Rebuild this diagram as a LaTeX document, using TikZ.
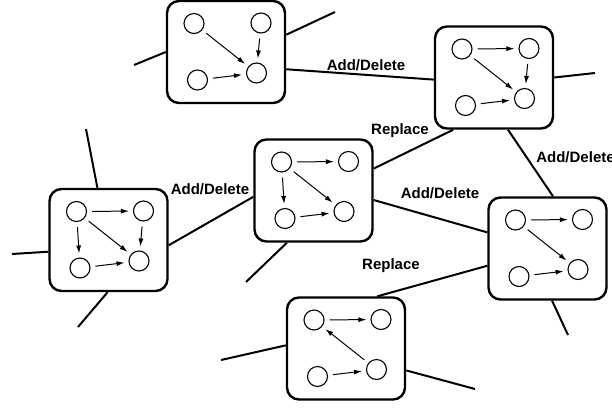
\documentclass[tikz,border=0pt]{standalone}
\usepackage{fontspec}
\setmainfont{Liberation Sans}
\usetikzlibrary{arrows.meta}

\begin{document}
\begin{tikzpicture}[x=1pt, y=-1pt, >={Latex[length=8pt,width=5pt]},
      cell/.style={draw, line width=2.4pt, rounded corners=12pt, minimum width=118pt, minimum height=102pt},
      dot/.style={draw, circle, line width=1.1pt, minimum size=20pt, inner sep=0pt},
      link/.style={line width=2pt},
      ar/.style={->, line width=1pt, shorten <=5pt, shorten >=4pt},
      lab/.style={font=\fontsize{15}{18}\selectfont\bfseries}]
      \useasboundingbox (0,0) rectangle (612,407);
      % the six networks, four units each
      \foreach \n/\x/\y in {A/226/52, B/494/77.5, C/313.5/190.5, D/108.5/240, E/547.5/248.5, F/346/348.5} {
        \node[cell] (\n) at (\x,\y) {};
        \node[dot] (\n1) at (\x-32,\y-28.5) {};
        \node[dot] (\n2) at (\x+35,\y-29) {};
        \node[dot] (\n3) at (\x-28.5,\y+28) {};
        \node[dot] (\n4) at (\x+30.5,\y+21) {};
      }
      % wiring inside each network
      \draw[ar] (A1) -- (A4);
      \draw[ar] (A2) -- (A4);
      \draw[ar] (A3) -- (A4);
      \draw[ar] (B1) -- (B2);
      \draw[ar] (B2) -- (B4);
      \draw[ar] (B1) -- (B4);
      \draw[ar] (B3) -- (B4);
      \draw[ar] (C1) -- (C2);
      \draw[ar] (C1) -- (C3);
      \draw[ar] (C1) -- (C4);
      \draw[ar] (C3) -- (C4);
      \draw[ar] (D1) -- (D2);
      \draw[ar] (D1) -- (D3);
      \draw[ar] (D1) -- (D4);
      \draw[ar] (D2) -- (D4);
      \draw[ar] (D3) -- (D4);
      \draw[ar] (E1) -- (E2);
      \draw[ar] (E1) -- (E4);
      \draw[ar] (E3) -- (E4);
      \draw[ar] (F1) -- (F2);
      \draw[ar] (F4) -- (F1);
      \draw[ar] (F3) -- (F4);
      % neighbours
      \draw[link] (A.-16) -- (B.182);
      \draw[link] (B.-128.5) -- (C.20);
      \draw[link] (B.-75) -- (E.84);
      \draw[link] (C.-9) -- (E.165);
      \draw[link] (C.186) -- (D.-5);
      \draw[link] (E.196) -- (F.59);
      % open ends
      \coordinate (a1) at (335,12);
      \coordinate (a2) at (134,65);
      \coordinate (b1) at (595,73);
      \coordinate (c1) at (246,282);
      \coordinate (d1) at (86,129);
      \coordinate (d2) at (12,254);
      \coordinate (d3) at (78,327);
      \coordinate (e1) at (568,335);
      \coordinate (f1) at (221,360);
      \coordinate (f2) at (475,389);
      \draw[link] (A.16) -- (a1);
      \draw[link] (A.west) -- (a2);
      \draw[link] (B.east) -- (b1);
      \draw[link] (C.243) -- (c1);
      \draw[link] (D.102) -- (d1);
      \draw[link] (D.191.6) -- (d2);
      \draw[link] (D.-91) -- (d3);
      \draw[link] (E.-85) -- (e1);
      \draw[link] (F.177.6) -- (f1);
      \draw[link] (F.-20) -- (f2);
      % operations
      \node[lab] (l1) at (366,65) {Add/Delete};
      \node[lab] (l2) at (400,131) {Replace};
      \node[lab] (l3) at (575.5,157) {Add/Delete};
      \node[lab] (l4) at (440,193) {Add/Delete};
      \node[lab] (l5) at (210,189) {Add/Delete};
      \node[lab] (l6) at (391,266) {Replace};
\end{tikzpicture}
\end{document}
